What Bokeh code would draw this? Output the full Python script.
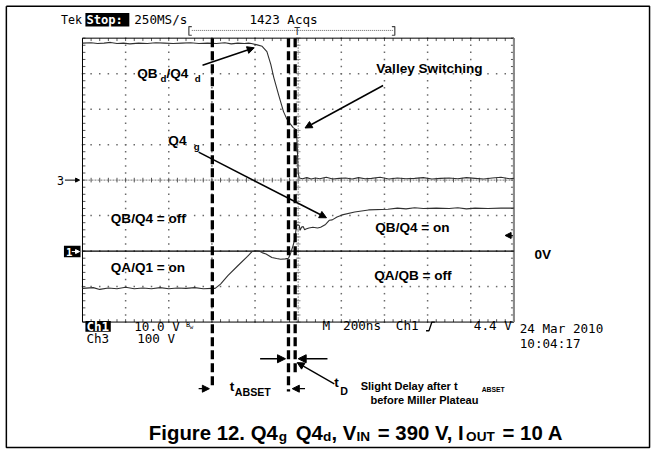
import numpy as np
from bokeh.plotting import figure
from bokeh.models import Range1d, Arrow, NormalHead
from bokeh.core.properties import value
from bokeh.embed import file_html
from bokeh.resources import INLINE

# ---------------- data ----------------
time_per_div = 200          # ns/div
ch1_per_div = 10.0          # V/div  (gate, Q4g)
ch3_per_div = 100.0         # V/div  (drain, QBd/Q4d)
ch1_ground_div = -2         # ch1 ground marker, divisions from centre
trigger_level = 4.4         # V on Ch1

# Ch3: drain voltage (V) vs time (ns)
ch3_t = [-1000, -960, -930, -900, -870, -840, -810, -780, -740, -700, -660, -620,
         -580, -540, -500, -460, -420, -380, -340, -310, -280, -250, -230, -217,
         -190, -167, -145, -127, -113, -90, -68, -54, -36, -23, -12, -8, -4, 0,
         5, 20, 40, 60, 80, 100, 130, 160, 190, 220, 250, 280, 310, 340, 380,
         420, 460, 500, 540, 580, 620, 660, 700, 740, 780, 820, 860, 900, 940, 980, 1000]
ch3_v = [386, 387, 385, 386, 388, 385, 386, 384, 386, 385, 387, 386,
         385, 386, 387, 385, 386, 385, 387, 384, 386, 385, 386, 385,
         381, 377, 362, 326, 289, 239, 193, 174, 158, 148, 143, 141, 90, 20,
         6, 4, 7, 3, 6, 4, 8, 3, 5, 6, 3, 7, 4, 5, 8,
         3, 6, 4, 5, 7, 3, 5, 6, 4, 7, 5, 3, 6, 8, 4, 5]

# Ch1: gate voltage (V) vs time (ns)
ch1_t = [-1000, -950, -920, -880, -840, -800, -760, -720, -680, -640, -600, -560,
         -520, -480, -440, -400, -385, -360, -326, -281, -235, -213, -195, -181,
         -165, -149, -122, -100, -81, -60, -45, -36, -23, -14, -9, -4, 5, 9, 16,
         23, 30, 36, 50, 68, 90, 104, 127, 145, 158, 180, 204, 262, 326, 416,
         460, 500, 540, 580, 640, 700, 740, 780, 820, 880, 940, 1000]
ch1_v = [-10.5, -10.3, -10.8, -10.4, -10.6, -10.2, -10.6, -10.4, -10.6, -10.3, -10.6, -10.4,
         -10.5, -10.3, -10.6, -10.5, -10.5, -9.3, -6.9, -4.2, -1.5, -0.1, 0.1, 0.0,
         -0.5, -0.8, -1.8, -2.1, -2.3, -2.2, -2.0, -0.8, 1.7, 3.9, 6.7, 7.4, 7.2, 5.9, 6.8,
         6.9, 6.0, 6.2, 6.5, 6.7, 6.5, 6.7, 7.5, 8.7, 8.8, 9.6, 10.2, 11.0, 11.6, 11.8,
         12.1, 11.9, 12.2, 12.0, 12.1, 12.0, 12.2, 11.9, 12.1, 12.0, 12.1, 12.1]

# dashed cursor positions (ns) and their lower ends (divisions)
cursor_t = [-398, -45, -14]
cursor_bottom = [-5.88, -5.96, -5.47]

# ---------------- layout ----------------
W, H = 651, 450               # figure size (fits the 667x466 window with 8px margin)
RW, RH = 667, 466             # reference picture size the layout is measured in
FS = 0.97                     # font scale  (figure / reference)
CX, SX = 305.0, 0.221         # ref px of t=0, px per ns
CY, SY = 186.0, 36.75         # ref px of centre line, px per div


def X(px):
    return (px - CX) / SX


def Y(py):
    return (CY - py) / SY


x0, x1 = X(0), X(RW)
y0, y1 = Y(RH), Y(0)

p = figure(width=W, height=H, x_range=Range1d(x0, x1), y_range=Range1d(y0, y1),
           output_backend="svg", toolbar_location=None, min_border=0,
           x_axis_location=None, y_axis_location=None,
           background_fill_color="white", border_fill_color="white",
           outline_line_color=None)
p.grid.visible = False
p.extra_y_ranges = {
    "ch1": Range1d((y0 - ch1_ground_div) * ch1_per_div, (y1 - ch1_ground_div) * ch1_per_div),
    "ch3": Range1d(y0 * ch3_per_div, y1 * ch3_per_div),
}

# outer frame of the figure page
p.line([X(6), X(665), X(665), X(6), X(6)], [Y(6), Y(6), Y(463), Y(463), Y(6)],
       line_color="black", line_width=1.5)

# ---------------- graticule ----------------
tmin, tmax = -5 * time_per_div, 5 * time_per_div
dot_c = "#6a6a6a"
gx, gy = [], []
for k in range(1, 10):
    if k == 5:
        continue
    t = tmin + k * time_per_div
    vs = np.arange(-4, 4.001, 0.2)
    gx += [t] * len(vs)
    gy += list(vs)
for k in range(1, 8):
    if k == 4:
        continue
    v = -4 + k
    ts = np.arange(tmin, tmax + 0.1, time_per_div / 5)
    gx += list(ts)
    gy += [v] * len(ts)
p.scatter(gx, gy, marker="square", size=1.5, fill_color=dot_c, line_color=None)

# centre axes
p.line([tmin, tmax], [0, 0], line_color="#777777", line_width=1, line_dash="2 1")
p.line([0, 0], [-4, 4], line_color="#9a9a9a", line_width=1, line_dash="2 1")
tl_x = 3.0 / SX
tl_y = 3.0 / SY
ts = np.arange(tmin, tmax + 0.1, time_per_div / 5)
vs = np.arange(-4, 4.001, 0.2)
p.segment(ts, -tl_y * 0.8, ts, tl_y * 0.8, line_color="#555555", line_width=1)
p.segment(-tl_x * 0.8, vs, tl_x * 0.8, vs, line_color="#888888", line_width=1)
# border ticks
p.segment(ts, 4, ts, 4 - tl_y, line_color="#555555", line_width=1)
p.segment(ts, -4, ts, -4 + tl_y, line_color="#555555", line_width=1)
p.segment(tmin, vs, tmin + tl_x, vs, line_color="#555555", line_width=1)
p.segment(tmax, vs, tmax - tl_x, vs, line_color="#555555", line_width=1)
# border
p.line([tmin, tmax, tmax, tmin, tmin], [4, 4, -4, -4, 4], line_color="black", line_width=1)
p.line([tmax, tmax], [4, -4], line_color="#8a8a8a", line_width=2)

# ch1 ground reference line (0 V)
p.line([tmin, tmax], [0, 0], y_range_name="ch1", line_color="black", line_width=1.4)

# ---------------- traces ----------------
p.line(ch3_t, ch3_v, y_range_name="ch3", line_color="#303030", line_width=1.1)
p.line(ch1_t, ch1_v, y_range_name="ch1", line_color="#303030", line_width=1.1)

# trigger level marker
p.add_layout(Arrow(end=NormalHead(size=6, fill_color="black", line_color="black"),
                   x_start=tmax - 1.0 / SX, y_start=trigger_level,
                   x_end=tmax - 9.0 / SX, y_end=trigger_level,
                   y_range_name="ch1", line_color="black", line_width=1))

# ---------------- dashed cursors ----------------
for ct, cb in zip(cursor_t, cursor_bottom):
    p.line([ct, ct], [4, cb], line_color="black", line_width=3.3, line_dash="9 4")

# ---------------- text helpers ----------------
MONO = value("DejaVu Sans Mono")
SANS = value("Liberation Sans")


def lbl(px, py, s, size=14, font=SANS, style="bold", color="black", align="left",
        baseline="middle"):
    p.text(x=[X(px)], y=[Y(py)], text=[s], text_font=font, text_font_style=style,
           text_font_size=f"{size * FS:.2f}px", text_color=color, text_align=align,
           text_baseline=baseline)


def box(l, t, r, b):
    p.quad(left=[X(l)], right=[X(r)], top=[Y(t)], bottom=[Y(b)],
           fill_color="black", line_color=None)


def arrow(xs, ys, xe, ye, size=7, lw=1.5, color="black"):
    p.add_layout(Arrow(end=NormalHead(size=size, fill_color=color, line_color=color),
                       x_start=X(xs), y_start=Y(ys), x_end=X(xe), y_end=Y(ye),
                       line_color=color, line_width=lw))


# scope header
lbl(62, 20, "Tek", 12, MONO, "normal")
box(87, 13, 132, 27)
lbl(88, 20, "Stop:", 12.5, MONO, "bold", "white")
lbl(137, 20, "250MS/s", 13, MONO, "normal")
lbl(255, 20, "1423 Acqs", 13, MONO, "normal")
p.line([X(196), X(403)], [Y(31), Y(31)], line_color="#666666", line_width=1, line_dash="1 1")
p.line([X(196), X(193), X(193), X(196)], [Y(27), Y(27), Y(36), Y(36)], line_color="#444444", line_width=1.2)
p.line([X(401), X(404), X(404), X(401)], [Y(27), Y(27), Y(36), Y(36)], line_color="#444444", line_width=1.2)
lbl(304, 32, "T", 10, MONO, "normal", "#333333", "center")

# channel markers
lbl(58, 186, "3", 12, MONO, "normal")
arrow(66, 186, 81, 186, size=4, lw=1)
box(65, 254, 82, 266)
lbl(67, 260, "1", 11, MONO, "bold", "white")
arrow(73, 260, 81, 260, size=4, lw=1, color="white")

# bottom readout
box(87, 332, 113, 343)
lbl(88, 338, "Ch1", 13, MONO, "bold", "white")
lbl(137, 338, "10.0 V", 13, MONO, "normal")
lbl(190, 336, "B", 7, MONO, "normal")
lbl(194, 338, "w", 6, MONO, "normal")
lbl(88, 350, "Ch3", 13, MONO, "normal")
lbl(140, 350, "100 V", 13, MONO, "normal")
lbl(330, 337, "M", 13, MONO, "normal")
lbl(351, 337, "200ns", 13, MONO, "normal")
lbl(405, 337, "Ch1", 13, MONO, "normal")
p.line([X(436), X(439), X(442), X(445)], [Y(342), Y(342), Y(333), Y(333)], line_color="black", line_width=1.3)
lbl(485, 337, "4.4 V", 13, MONO, "normal")
lbl(532, 340, "24 Mar 2010", 13, MONO, "normal")
lbl(532, 355, "10:04:17", 13, MONO, "normal")

# annotations
lbl(140, 76, "QB", 14)
lbl(164, 81, "d", 10)
lbl(170, 76, "/Q4", 14)
lbl(199, 81, "d", 10)
arrow(207, 67, 260, 49)
lbl(385, 70, "Valley Switching", 14)
arrow(392, 88, 312, 132)
lbl(172, 145, "Q4", 14)
lbl(198, 151, "g", 10)
arrow(203, 157, 334, 225)
lbl(113, 226, "QB/Q4 = off", 14)
lbl(113, 277, "QA/Q1 = on", 14)
lbl(384, 235, "QB/Q4 = on", 14)
lbl(383, 285, "QA/QB = off", 14)
lbl(547, 263, "0V", 14)

# timing annotations
arrow(266, 371, 292, 371, size=8, lw=1.3)
arrow(335, 371, 305, 371, size=8, lw=1.3)
arrow(203, 402, 214, 402, size=7, lw=1.3)
arrow(312, 402, 299, 402, size=7, lw=1.3)
arrow(342, 397, 304, 375, size=7, lw=1.3)
lbl(235, 400, "t", 14)
lbl(240, 405, "ABSET", 11)
lbl(342, 396, "t", 14)
lbl(348, 404, "D", 11)
lbl(369, 399, "Slight Delay after t", 11.4)
lbl(493, 403, "ABSET", 7)
lbl(379, 414, "before Miller Plateau", 11.4)

# caption (main text 21px, subscripts 14px, alphabetic baselines)
cap_base, sub_base = 448, 452
cap_parts = [("Figure 12. Q4", 21, cap_base, 0), ("g", 14, sub_base, 3), (" Q4", 21, cap_base, 0),
             ("d", 14, sub_base, 0), (", V", 21, cap_base, 0), ("IN", 14, sub_base, 2),
             (" = 390 V, I", 21, cap_base, 0), ("OUT", 14, sub_base, 2), (" = 10 A", 21, cap_base, 0)]
# advance widths (em) of Liberation Sans Bold
adv = {'F': .611, 'i': .278, 'g': .611, 'u': .611, 'r': .389, 'e': .556, ' ': .278,
       '1': .556, '2': .556, '.': .278, 'Q': .778, '4': .556, 'd': .611, ',': .278,
       'V': .667, 'I': .278, 'N': .722, '=': .584, '3': .556, '9': .556, '0': .556,
       'O': .778, 'U': .722, 'T': .611, 'A': .722}
cx = 152
for s, sz, base, extra in cap_parts:
    lead = len(s) - len(s.lstrip(" "))
    cx += lead * adv[' '] * sz
    core = s.strip(" ")
    lbl(cx, base, core, sz, baseline="alphabetic")
    cx += sum(adv.get(ch, .556) for ch in core) * sz + extra

open("out.html", "w").write(file_html(p, INLINE))
